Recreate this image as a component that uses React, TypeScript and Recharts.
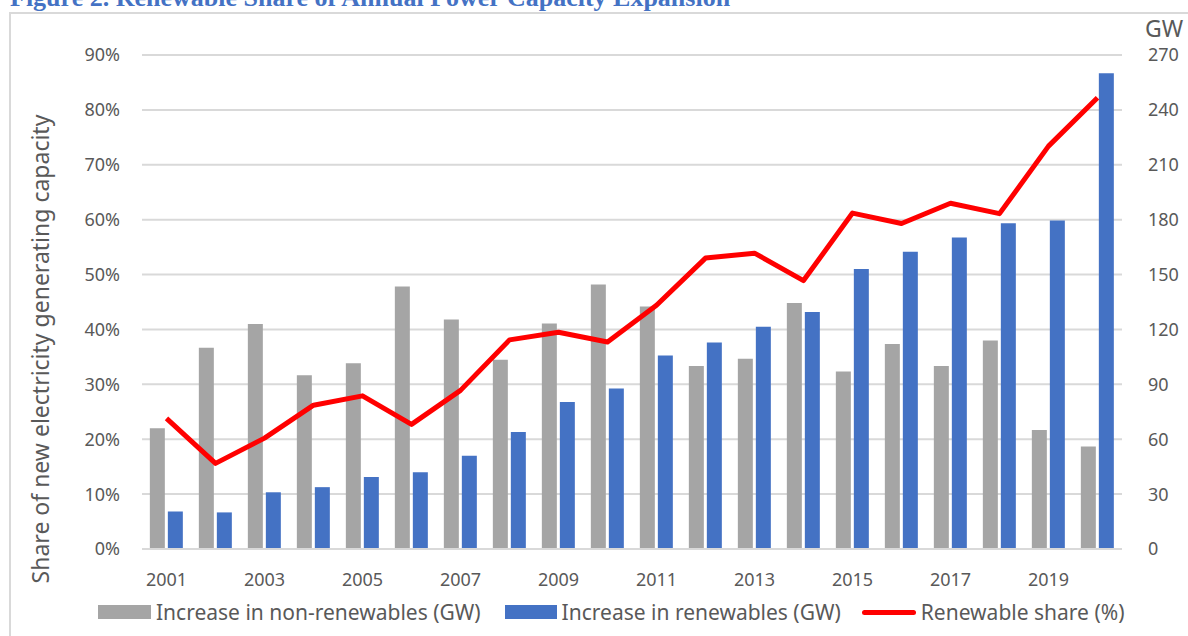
import React from 'react';
import { ComposedChart, Bar, Line, XAxis, YAxis, CartesianGrid } from 'recharts';

const years = ['2001','2002','2003','2004','2005','2006','2007','2008','2009','2010','2011','2012','2013','2014','2015','2016','2017','2018','2019','2020'];
const nonRenewables = [66, 110, 123, 95, 101.5, 143.5, 125.5, 103.5, 123.3, 144.5, 132.5, 100, 104, 134.5, 97, 112, 100, 114, 65, 56];
const renewables = [20.5, 20, 31, 33.8, 39.3, 42, 51, 64, 80.3, 87.7, 105.7, 112.8, 121.5, 129.5, 153, 162.5, 170.2, 178, 179.5, 260];
const renewableShare = [23.8, 15.6, 20.2, 26.2, 27.9, 22.7, 28.9, 38.1, 39.5, 37.7, 44.4, 53, 53.9, 48.9, 61.2, 59.3, 63, 61.1, 73.4, 82.2];
const leftTicks = [0, 10, 20, 30, 40, 50, 60, 70, 80, 90];
const rightTicks = [0, 30, 60, 90, 120, 150, 180, 210, 240, 270];

const title = 'Figure 2. Renewable Share of Annual Power Capacity Expansion';
const leftTitle = 'Share of new electricity generating capacity';
const rightUnit = 'GW';
const seriesNames = ['Increase in non-renewables (GW)', 'Increase in renewables (GW)', 'Renewable share (%)'];

const data = years.map((y, i) => ({
  year: y,
  non: nonRenewables[i],
  ren: renewables[i],
  share: renewableShare[i],
}));

const FONT = '"Noto Sans", "Open Sans", sans-serif';
const TEXT = '#595959';
const GRAY = '#A5A5A5';
const BLUE = '#4472C4';
const RED = '#FF0000';

export default function App() {
  const tickStyle = { fill: TEXT, fontSize: 18, fontFamily: FONT };
  return (
    <div style={{ position: 'absolute', left: 0, top: 0, width: 1188, height: 636, background: '#fff', overflow: 'hidden' }}>
      <div style={{ position: 'absolute', left: 9, top: 12, width: 1200, height: 640, borderLeft: '2px solid #d9d9d9', borderTop: '2px solid #d9d9d9' }} />
      <div style={{ position: 'absolute', left: 10, top: -15, fontFamily: '"Liberation Serif", serif', fontWeight: 'bold', fontSize: 26, lineHeight: '26px', color: BLUE, whiteSpace: 'nowrap' }}>{title}</div>
      <div style={{ position: 'absolute', left: 0, top: 0 }}>
        <ComposedChart width={1188} height={636} data={data} margin={{ top: 55, right: 0, left: 0, bottom: 57 }} barCategoryGap="16%" barGap={3}>
          <CartesianGrid vertical={false} stroke="#d9d9d9" strokeWidth={2} yAxisId="right" />
          <XAxis dataKey="year" interval={1} tickLine={false} axisLine={{ stroke: '#d9d9d9', strokeWidth: 2 }} tick={tickStyle} tickMargin={18} height={30} />
          <YAxis yAxisId="left" orientation="left" domain={[0, 90]} ticks={leftTicks} tickFormatter={(v) => `${v}%`} width={142} tickLine={false} tickSize={0} axisLine={false} tickMargin={22} tick={tickStyle} />
          <YAxis yAxisId="right" orientation="right" domain={[0, 270]} ticks={rightTicks} width={66} tickLine={false} tickSize={0} axisLine={false} tickMargin={26} tick={{ ...tickStyle, textAnchor: 'start' }} />
          <Bar yAxisId="right" dataKey="non" name={seriesNames[0]} fill={GRAY} isAnimationActive={false} />
          <Bar yAxisId="right" dataKey="ren" name={seriesNames[1]} fill={BLUE} isAnimationActive={false} />
          <Line yAxisId="left" dataKey="share" name={seriesNames[2]} stroke={RED} strokeWidth={5} dot={false} activeDot={false} type="linear" strokeLinejoin="round" isAnimationActive={false} />
        </ComposedChart>
      </div>
      <div style={{ position: 'absolute', left: 1145, top: 17, fontFamily: FONT, fontSize: 23, lineHeight: '23px', color: TEXT }}>{rightUnit}</div>
      <div style={{ position: 'absolute', left: 40, top: 349, transform: 'translate(-50%, -50%) rotate(-90deg)', fontFamily: FONT, fontSize: 23, lineHeight: '26px', color: TEXT, whiteSpace: 'nowrap' }}>{leftTitle}</div>
      <div style={{ position: 'absolute', left: 98, top: 598, height: 28, display: 'flex', alignItems: 'center', fontFamily: FONT, fontSize: 21, lineHeight: '28px', color: TEXT, whiteSpace: 'nowrap' }}>
        <span style={{ display: 'inline-block', width: 53, height: 14, background: GRAY, marginRight: 5 }} />
        <span style={{ marginRight: 24 }}>{seriesNames[0]}</span>
        <span style={{ display: 'inline-block', width: 52, height: 14, background: BLUE, marginRight: 5 }} />
        <span style={{ marginRight: 21 }}>{seriesNames[1]}</span>
        <span style={{ display: 'inline-block', width: 54, height: 5, background: RED, borderRadius: 3, marginRight: 5 }} />
        <span>{seriesNames[2]}</span>
      </div>
    </div>
  );
}
